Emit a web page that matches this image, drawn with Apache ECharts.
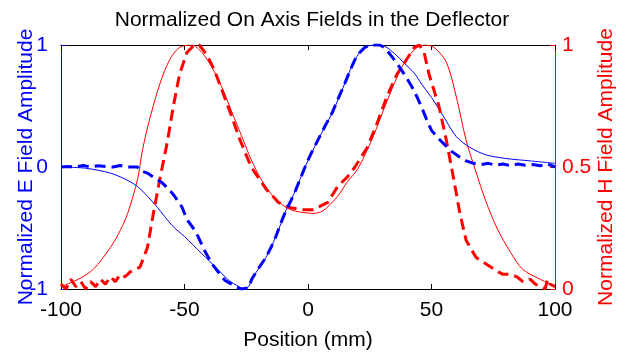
<!DOCTYPE html>
<html>
<head>
<meta charset="UTF-8" />
<script src="https://cdn.jsdelivr.net/npm/echarts@6/dist/echarts.min.js"></script>
<style>
  html, body, #main { margin: 0; padding: 0; background: #fff; }
  #main { width: 635px; height: 353px; }
</style>
</head>
<body>
<div id="main"></div>
<script>
// E field, simulation (thin blue)
const eSimX = [-100, -90, -80, -74, -69, -65, -61, -55, -50, -43, -36.5, -32, -28, -26, -24, -22.8, -17, -13, -9, -5, -1.2, 4, 9.7, 15, 19, 23, 27, 31, 35, 39, 43, 46, 50, 55, 60, 65.6, 72, 80, 90, 100];
const eSim = [0, -0.01, -0.05, -0.10, -0.16, -0.24, -0.33, -0.48, -0.57, -0.71, -0.84, -0.93, -0.98, -1.0, -0.98, -0.92, -0.74, -0.57, -0.36, -0.19, 0, 0.22, 0.44, 0.69, 0.88, 0.98, 1.0, 0.99, 0.93, 0.85, 0.77, 0.68, 0.57, 0.41, 0.25, 0.16, 0.10, 0.07, 0.05, 0.03];

// E field, measured (thick dashed blue)
const eMeasX = [-100, -97, -94, -91, -88, -85, -82, -79, -76, -73, -69, -68, -65, -62, -59, -56, -54, -51, -49, -46.5, -44.5, -42, -39, -36, -33.6, -31, -29.5, -27, -24, -22.8, -20, -17, -15, -13, -11, -9, -7, -5, -3, -1.2, 1, 4, 7, 9.7, 12, 15, 17, 19, 21, 23, 25, 27, 29, 31, 33, 36, 39, 42, 44, 46, 48, 50, 52.5, 55, 58, 61.5, 64, 67, 70, 73, 76, 79, 82, 85, 88, 91, 94, 97, 100];
const eMeas = [0, 0.005, 0, 0.012, 0, 0.01, 0.005, 0, 0.012, 0, 0, -0.03, -0.05, -0.09, -0.13, -0.19, -0.24, -0.33, -0.43, -0.50, -0.57, -0.68, -0.79, -0.87, -0.93, -0.96, -0.98, -1.0, -0.99, -0.92, -0.83, -0.74, -0.66, -0.57, -0.46, -0.36, -0.28, -0.19, -0.09, 0, 0.1, 0.22, 0.34, 0.44, 0.55, 0.69, 0.79, 0.88, 0.94, 0.98, 0.995, 1.0, 1.0, 0.98, 0.93, 0.85, 0.76, 0.66, 0.58, 0.49, 0.39, 0.30, 0.24, 0.19, 0.13, 0.08, 0.05, 0.03, 0.02, 0.03, 0.015, 0.025, 0.01, 0.025, 0.015, 0.02, 0.01, 0.025, 0.0];

// H field, simulation (thin red)
const hSimX = [-100, -93, -87, -80, -76, -73, -69, -67, -64, -60, -56, -52, -47, -43, -39, -35, -31, -27, -23, -19, -15, -11, -7, -3, 2, 6, 12, 16, 20, 24, 27, 32, 38, 43, 47, 51, 56, 60, 64, 68, 72, 76.5, 82, 87, 94, 100];
const hSim = [0.01, 0.04, 0.08, 0.17, 0.24, 0.31, 0.45, 0.57, 0.70, 0.84, 0.94, 0.99, 1.0, 0.97, 0.91, 0.83, 0.73, 0.63, 0.53, 0.45, 0.39, 0.35, 0.325, 0.315, 0.31, 0.32, 0.38, 0.44, 0.49, 0.57, 0.64, 0.77, 0.91, 0.98, 1.0, 0.99, 0.93, 0.79, 0.61, 0.48, 0.36, 0.25, 0.15, 0.08, 0.04, 0.01];

// H field, measured (thick dashed red)
const hMeasX = [-100, -98, -96, -94, -92, -90, -88, -86, -84, -82, -80, -78, -76, -74, -72, -70, -68, -65, -62.6, -60, -57, -54.5, -52, -49, -46, -44, -41, -38, -35, -31, -27.5, -23, -17, -12, -8, -2.4, 2, 5, 8, 12, 16, 19, 24, 28, 32, 36, 40.5, 43, 45, 47, 49, 53, 56, 59, 61.5, 64, 68, 71, 74, 77, 79, 82, 84.6, 87, 90, 92, 94, 96, 97, 98, 100];
const hMeas = [0.02, 0.0, 0.04, 0.01, 0.03, 0.0, 0.03, 0.01, 0.04, 0.02, 0.05, 0.03, 0.06, 0.05, 0.07, 0.08, 0.09, 0.17, 0.31, 0.45, 0.60, 0.75, 0.88, 0.97, 1.0, 1.0, 0.96, 0.90, 0.82, 0.71, 0.61, 0.50, 0.41, 0.355, 0.335, 0.325, 0.325, 0.34, 0.355, 0.42, 0.46, 0.50, 0.58, 0.68, 0.79, 0.88, 0.95, 0.99, 1.0, 0.97, 0.88, 0.75, 0.61, 0.45, 0.31, 0.20, 0.13, 0.11, 0.09, 0.07, 0.06, 0.06, 0.05, 0.03, 0.04, 0.02, 0.01, 0.0, 0.04, 0.02, 0.01];

const pairs = (xs, ys) => xs.map((x, i) => [x, ys[i]]);
const FONT = 'Liberation Sans';
const FS = 21;
const BLUE = '#0000ff';
const RED = '#ff0000';

const chart = echarts.init(document.getElementById('main'), null, { renderer: 'canvas' });
chart.setOption({
  animation: false,
  backgroundColor: '#fff',
  title: {
    text: 'Normalized On Axis Fields in the Deflector',
    left: 307,
    top: 5,
    textAlign: 'center',
    textStyle: { fontFamily: FONT, fontSize: FS, fontWeight: 'normal', color: '#000' }
  },
  grid: { left: 61, right: 80, top: 45, bottom: 64, containLabel: false, outerBoundsMode: 'none' },
  xAxis: [
    {
      type: 'value',
      min: -100, max: 100, interval: 50,
      name: 'Position (mm)',
      nameLocation: 'middle',
      nameGap: 41,
      nameMoveOverlap: false,
      nameTextStyle: { fontFamily: FONT, fontSize: FS, color: '#000' },
      axisLine: { onZero: false, lineStyle: { color: '#000', width: 1 } },
      axisTick: { inside: true, length: 5, lineStyle: { color: '#000' } },
      axisLabel: { fontFamily: FONT, fontSize: FS, color: '#000', margin: 11 },
      splitLine: { show: false }
    },
    {
      type: 'value',
      position: 'top',
      min: -100, max: 100, interval: 50,
      axisLine: { onZero: false, lineStyle: { color: '#000', width: 1 } },
      axisTick: { inside: true, length: 5, lineStyle: { color: '#000' } },
      axisLabel: { show: false },
      splitLine: { show: false }
    }
  ],
  yAxis: [
    {
      type: 'value',
      min: -1, max: 1, interval: 1,
      name: 'Normalized E Field Amplitude',
      nameLocation: 'middle',
      nameRotate: 90,
      nameGap: 24,
      nameMoveOverlap: false,
      nameTextStyle: { fontFamily: FONT, fontSize: FS, color: BLUE },
      axisLine: { show: true, onZero: false, lineStyle: { color: BLUE, width: 1 } },
      axisTick: { show: true, inside: true, length: 5, lineStyle: { color: BLUE } },
      axisLabel: { fontFamily: FONT, fontSize: FS, color: BLUE, margin: 13 },
      splitLine: { show: false }
    },
    {
      type: 'value',
      position: 'right',
      min: 0, max: 1, interval: 0.5,
      name: 'Normalized H Field Amplitude',
      nameLocation: 'middle',
      nameRotate: 90,
      nameGap: 41,
      nameMoveOverlap: false,
      nameTextStyle: { fontFamily: FONT, fontSize: FS, color: RED },
      axisLine: { show: true, onZero: false, lineStyle: { color: RED, width: 1 } },
      axisTick: { show: true, inside: true, length: 5, lineStyle: { color: RED } },
      axisLabel: { fontFamily: FONT, fontSize: FS, color: RED, margin: 7 },
      splitLine: { show: false }
    }
  ],
  series: [
    {
      name: 'H sim', type: 'line', yAxisIndex: 1, showSymbol: false, smooth: 0.3,
      data: pairs(hSimX, hSim),
      lineStyle: { color: RED, width: 1 }
    },
    {
      name: 'E sim', type: 'line', yAxisIndex: 0, showSymbol: false, smooth: 0.3,
      data: pairs(eSimX, eSim),
      lineStyle: { color: BLUE, width: 1 }
    },
    {
      name: 'H meas', type: 'line', yAxisIndex: 1, showSymbol: false,
      data: pairs(hMeasX, hMeas),
      lineStyle: { color: RED, width: 3, type: [11, 6] }
    },
    {
      name: 'E meas', type: 'line', yAxisIndex: 0, showSymbol: false,
      data: pairs(eMeasX, eMeas),
      lineStyle: { color: BLUE, width: 3, type: [11, 6] }
    }
  ]
});
</script>
</body>
</html>
